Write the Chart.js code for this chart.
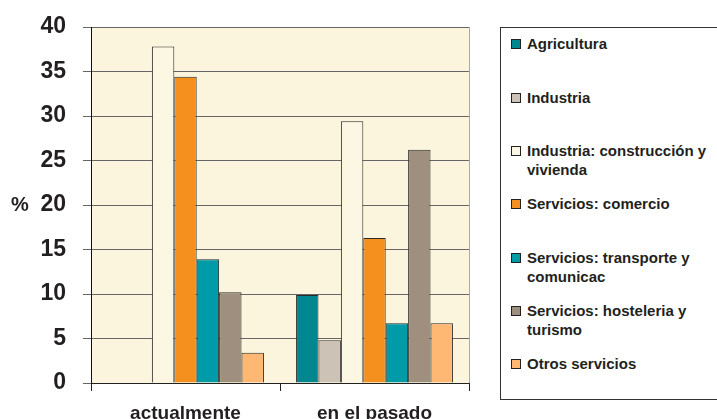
<!DOCTYPE html>
<html>
<head>
<meta charset="utf-8">
<script src="https://cdn.jsdelivr.net/npm/chart.js@4/dist/chart.umd.min.js"></script>
<style>
  html, body { margin: 0; padding: 0; background: #fff; }
  #wrap { position: relative; width: 717px; height: 419px; overflow: hidden; }
  #chart { position: absolute; left: 0; top: 0; }
  #legend {
    position: absolute; left: 500px; top: 27px; width: 240px; height: 373px;
    border: 1px solid #333; box-sizing: border-box; background: #fff;
  }
  .item {
    position: absolute; left: 10px; font: bold 15px "Liberation Sans", Arial, sans-serif;
    color: #231f20; line-height: 19px;
  }
  .swatch {
    position: absolute; left: 0; top: 5px; width: 8px; height: 8px; border: 1px solid #222;
  }
  .label { margin-left: 16px; white-space: nowrap; }
</style>
</head>
<body>
<div id="wrap">
  <canvas id="chart" width="717" height="419"></canvas>
  <div id="legend"></div>
</div>
<script>
const categories = ["actualmente", "en el pasado"];
const seriesNames = [
    ["Agricultura"],
    ["Industria"],
    ["Industria: construcción y", "vivienda"],
    ["Servicios: comercio"],
    ["Servicios: transporte y", "comunicac"],
    ["Servicios: hosteleria y", "turismo"],
    ["Otros servicios"],
];
const seriesColors = ["#00878F", "#CCC2B5", "#FCF7E3", "#F5901E", "#009BA8", "#9E8F7E", "#FFB874"];
const actualmente = [0, 0, 37.8, 34.4, 13.9, 10.2, 3.4];
const pasado = [9.9, 4.8, 29.4, 16.3, 6.7, 26.2, 6.7];
const yTicks = [0, 5, 10, 15, 20, 25, 30, 35, 40];

const FONT = "'Liberation Sans', Arial, sans-serif";

const plotBackground = {
    id: "plotBackground",
    beforeDraw(chart) {
        const { ctx, chartArea: a } = chart;
        ctx.save();
        ctx.fillStyle = "#FAF5DC";
        ctx.fillRect(a.left, a.top, a.right - a.left, a.bottom - a.top);
        ctx.restore();
    },
    afterDraw(chart) {
        const { ctx, chartArea: a } = chart;
        ctx.save();
        // right edge of plot
        ctx.strokeStyle = "#aaa";
        ctx.lineWidth = 1;
        ctx.beginPath();
        ctx.moveTo(a.right + 0.5, a.top);
        ctx.lineTo(a.right + 0.5, a.bottom);
        ctx.stroke();
        // "%" axis label
        ctx.fillStyle = "#231f20";
        ctx.font = "bold 20px " + FONT;
        ctx.textAlign = "left";
        ctx.textBaseline = "middle";
        ctx.fillText("%", 11, chart.scales.y.getPixelForValue(20));
        ctx.restore();
    },
};

const datasets = seriesNames.map((name, i) => ({
    label: name.join(" "),
    data: [actualmente[i], pasado[i]],
    backgroundColor: seriesColors[i],
    borderColor: "#2a2a2a",
    borderWidth: 1,
    borderSkipped: "bottom",
}));

new Chart(document.getElementById("chart"), {
    type: "bar",
    data: { labels: categories, datasets },
    options: {
        responsive: false,
        animation: false,
        layout: { padding: { top: 27, right: 248, left: 0, bottom: 0 } },
        datasets: { bar: { barPercentage: 1, categoryPercentage: 0.83 } },
        plugins: { legend: { display: false }, tooltip: { enabled: false } },
        scales: {
            x: {
                grid: { offset: true, drawOnChartArea: false, drawTicks: true, tickLength: 8, color: "#222" },
                border: { color: "#222" },
                ticks: { color: "#231f20", font: { family: FONT, size: 19, weight: "bold" }, padding: 11 },
                afterFit(scale) {
                    scale.height = 36;
                    scale.paddingLeft = 0;
                    scale.paddingRight = 0;
                },
            },
            y: {
                min: 0,
                max: 40,
                afterBuildTicks(scale) { scale.ticks = yTicks.map((v) => ({ value: v })); },
                grid: { color: "#666", lineWidth: 1, tickLength: 8 },
                border: { color: "#111" },
                ticks: { color: "#231f20", font: { family: FONT, size: 23, weight: "bold" }, padding: 17 },
                afterFit(scale) {
                    scale.width = 91;
                    scale.paddingTop = 0;
                    scale.paddingBottom = 0;
                },
            },
        },
    },
    plugins: [plotBackground],
});

const legend = document.getElementById("legend");
seriesNames.forEach((name, i) => {
    const item = document.createElement("div");
    item.className = "item";
    item.style.top = (6.3 + i * 53.3) + "px";
    item.innerHTML = `<span class="swatch" style="background:${seriesColors[i]}"></span><div class="label">${name.join("<br>")}</div>`;
    legend.appendChild(item);
});
</script>
</body>
</html>
